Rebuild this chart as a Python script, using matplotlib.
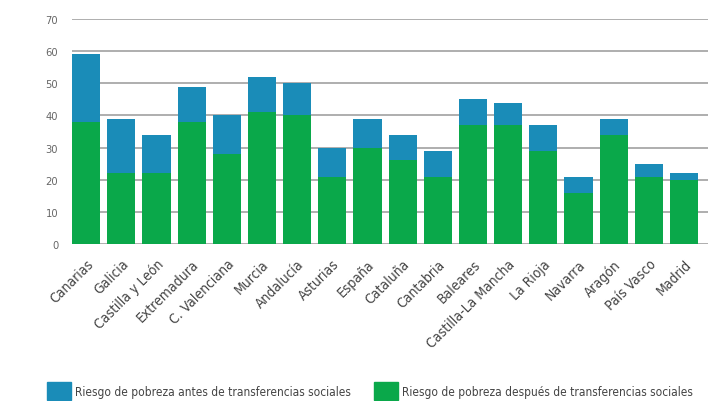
import matplotlib
matplotlib.use('Agg')
import matplotlib.pyplot as plt
from matplotlib.patches import Patch

# datos por comunidad
regiones = ['Canarias', 'Galicia', 'Castilla y León', 'Extremadura', 'C. Valenciana',
            'Murcia', 'Andalucía', 'Asturias', 'España', 'Cataluña', 'Cantabria',
            'Baleares', 'Castilla-La Mancha', 'La Rioja', 'Navarra', 'Aragón',
            'País Vasco', 'Madrid']
antes = [59, 39, 34, 49, 40, 52, 50, 30, 39, 34, 29, 45, 44, 37, 21, 39, 25, 22]
despues = [38, 22, 22, 38, 28, 41, 40, 21, 30, 26, 21, 37, 37, 29, 16, 34, 21, 20]
yticks = [0, 10, 20, 30, 40, 50, 60, 70]

azul = '#1a8cb8'
verde = '#0aa84a'

plt.rcParams['font.family'] = ['DejaVu Sans']
plt.rcParams['font.stretch'] = 'condensed'

fig = plt.figure(figsize=(7.18, 4.02), dpi=100)
ax = fig.add_axes([0.1003, 0.3905, 0.8858, 0.5595])

x = range(len(regiones))
diff = [a - d for a, d in zip(antes, despues)]
ax.bar(x, despues, width=0.8, color=verde, zorder=3)
ax.bar(x, diff, bottom=despues, width=0.8, color=azul, zorder=3)

ax.set_ylim(0, 70)
ax.set_xlim(-0.4, 17.68)
ax.set_yticks(yticks)
ax.yaxis.grid(True, color='#a8a8a8', linewidth=1.3, zorder=0)
ax.tick_params(axis='y', length=0, labelsize=8, labelcolor='#666666', pad=10)
ax.tick_params(axis='x', length=0, labelsize=10, labelcolor='#444444', pad=9)
ax.set_xticks(list(x))
ax.set_xticklabels(regiones, rotation=45, ha='right', rotation_mode='anchor')
for s in ax.spines.values():
    s.set_visible(False)

handles = [Patch(color=azul, label='Riesgo de pobreza antes de transferencias sociales'),
           Patch(color=verde, label='Riesgo de pobreza después de transferencias sociales')]
fig.legend(handles=handles, loc='center left', bbox_to_anchor=(0.0655, 0.025), ncol=2,
           frameon=False, fontsize=8.6, handlelength=2.0, handleheight=1.9,
           handletextpad=0.3, columnspacing=2.0, labelcolor='#444444',
           borderaxespad=0, borderpad=0)

fig.savefig('out.png', dpi=100)
